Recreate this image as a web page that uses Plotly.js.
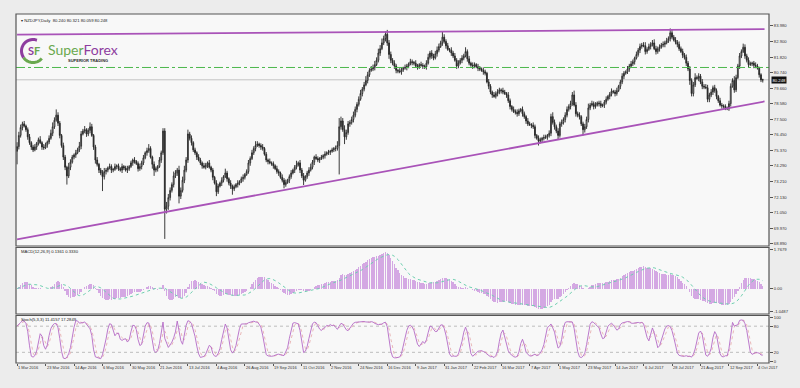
<!DOCTYPE html>
<html><head><meta charset="utf-8">
<script src="https://cdn.plot.ly/plotly-3.0.1.min.js"></script>
<style>html,body{margin:0;padding:0;background:#ffffff}#c{width:800px;height:388px}</style>
</head><body><div id="c"></div><script>
// ---------- DATA (NZDJPY Daily, 1 Mar 2016 - 9 Oct 2017) ----------
const closes = [
75.63,76.40,76.95,77.20,77.05,76.80,76.30,75.90,75.60,75.40,
75.60,75.85,76.10,75.90,75.60,75.55,75.75,75.95,76.20,76.55,
77.00,77.45,77.80,77.25,76.40,75.70,74.90,74.20,73.60,74.20,
74.55,74.90,75.05,75.20,75.40,75.65,76.50,76.70,76.80,76.50,
76.75,77.00,76.40,75.60,74.70,74.40,74.00,73.80,73.55,73.90,
74.00,74.15,74.25,74.00,74.05,74.25,74.30,74.10,74.00,74.25,
74.15,74.00,74.10,74.25,74.50,74.70,74.60,74.45,74.10,74.25,
74.50,74.85,75.20,75.35,75.50,74.90,74.40,74.00,74.10,74.25,
74.70,75.20,76.70,71.30,71.50,72.10,72.60,73.00,73.60,73.80,
74.00,72.20,72.60,73.30,74.00,74.70,76.50,76.20,75.90,75.40,
75.20,74.90,74.70,74.50,74.30,74.20,74.35,74.50,74.20,74.00,
73.50,73.10,72.50,72.90,73.10,73.30,73.55,73.80,73.40,73.10,
72.90,72.70,72.85,73.00,73.10,73.20,73.40,73.50,73.70,73.90,
74.50,74.80,75.20,75.50,75.70,75.80,75.70,75.60,75.50,75.10,
74.70,74.60,74.50,74.45,74.30,74.10,73.90,73.80,73.50,73.30,
73.00,73.15,73.30,73.55,73.80,74.00,74.20,74.35,74.50,74.00,
73.60,73.30,73.55,73.80,74.00,74.20,74.55,74.90,74.80,74.70,
74.80,74.90,75.00,75.10,75.20,75.25,75.30,75.40,75.50,75.50,
75.70,77.00,77.40,76.80,76.30,76.60,77.20,77.30,77.50,77.80,
78.20,78.55,78.90,79.30,79.60,79.90,80.20,80.60,80.90,81.00,
81.10,81.30,81.60,82.10,82.40,82.80,83.10,83.40,82.80,82.00,
81.60,81.40,81.20,80.90,80.85,80.80,80.95,81.05,81.10,81.20,
81.35,81.50,81.45,81.40,81.20,81.15,81.30,81.25,81.20,81.15,
81.40,81.80,82.10,81.90,81.75,82.05,82.30,82.55,82.80,83.20,
82.90,82.60,82.35,82.30,82.10,81.90,81.60,81.20,81.40,81.60,
81.75,81.90,82.20,81.70,81.40,81.25,81.20,81.30,81.15,81.05,
81.00,80.90,80.80,80.70,80.10,79.80,79.40,79.20,79.10,79.30,
79.40,79.55,79.50,79.40,79.30,79.20,78.80,78.40,78.20,78.05,
78.00,77.90,78.10,78.20,77.90,77.70,77.40,77.20,77.15,77.10,
77.00,76.40,76.20,76.00,76.10,76.20,76.25,76.30,76.40,76.55,
77.70,77.30,77.00,76.70,76.40,77.20,77.30,77.50,77.80,78.20,
78.40,78.60,79.20,78.50,77.90,77.80,77.70,77.20,76.80,77.00,
77.50,78.30,78.50,78.60,78.40,78.50,78.65,78.60,78.45,78.50,
78.70,78.90,79.10,79.25,79.45,79.40,79.30,79.50,79.80,80.10,
80.50,80.70,80.80,81.00,81.20,81.35,81.50,81.75,82.00,82.30,
82.55,82.65,82.60,82.20,82.35,82.55,82.70,82.80,82.40,82.20,
82.40,82.50,82.65,82.70,82.80,82.95,83.10,83.50,83.20,83.00,
82.85,82.70,82.40,82.20,81.95,81.80,81.40,81.00,80.20,79.30,
79.90,80.40,80.35,80.50,80.10,79.80,79.75,79.70,78.90,79.20,
79.40,79.70,79.50,79.10,78.80,78.50,78.45,78.40,78.30,78.25,
78.60,79.80,80.20,79.55,80.40,81.20,81.90,82.20,82.50,81.90,
81.60,81.30,81.35,81.40,81.25,81.20,81.05,80.60,80.24,80.248];
const firstOpen = 75.30;
// upper / lower shadow length beyond the body (price units)
const hiExt = [
.3,.25,.2,.15,.2,.1,.15,.2,.1,.15, .2,.1,.15,.25,.1,.2,.15,.1,.2,.25,
.3,.2,.4,.2,.15,.1,.2,.15,.1,.3, .2,.15,.1,.2,.15,.3,.2,.15,.25,.1,
.15,.3,.2,.1,.15,.2,.1,.15,.2,.25, .15,.1,.2,.15,.1,.2,.1,.15,.1,.2,
.1,.15,.2,.1,.15,.1,.2,.1,.15,.2, .15,.2,.1,.2,.3,.15,.1,.2,.15,.1,
.2,.15,.2,.2,.3,.25,.2,.15,.3,.2, .15,.3,.2,.25,.3,.2,.3,.15,.2,.1,
.15,.1,.2,.15,.1,.2,.15,.1,.2,.1, .15,.1,.2,.15,.1,.2,.1,.3,.15,.1,
.2,.1,.15,.1,.2,.1,.15,.2,.1,.15, .2,.15,.2,.15,.3,.2,.1,.15,.2,.1,
.15,.1,.2,.1,.15,.1,.2,.15,.1,.2, .15,.2,.1,.15,.2,.1,.15,.3,.1,.2,
.15,.2,.1,.15,.2,.25,.15,.1,.2,.15, .1,.15,.1,.2,.1,.15,.1,.15,.1,.2,
.3,.6,.3,.2,.3,.2,.2,.15,.2,.25, .2,.15,.2,.25,.15,.2,.3,.2,.15,.2,
.2,.25,.2,.3,.25,.3,.2,.2,.3,.2, .2,.15,.2,.15,.1,.2,.15,.1,.2,.15,
.1,.2,.15,.1,.2,.15,.1,.2,.15,.1, .2,.25,.15,.2,.15,.2,.25,.2,.15,.4,
.2,.15,.2,.1,.2,.15,.2,.15,.2,.15, .2,.15,.3,.15,.2,.1,.2,.15,.1,.2,
.15,.1,.2,.15,.1,.2,.15,.1,.2,.15, .2,.15,.1,.2,.15,.1,.2,.15,.1,.2,
.15,.2,.15,.1,.2,.15,.1,.2,.15,.1, .2,.15,.1,.2,.15,.1,.2,.15,.1,.2,
.2,.3,.2,.15,.2,.15,.2,.15,.2,.2, .15,.2,.2,.3,.2,.15,.2,.1,.15,.2,
.2,.3,.15,.2,.15,.2,.1,.15,.2,.1, .15,.2,.1,.15,.2,.1,.15,.2,.1,.15,
.2,.15,.1,.2,.15,.2,.15,.1,.2,.15, .2,.15,.2,.25,.15,.2,.15,.2,.25,.2,
.15,.2,.15,.2,.15,.2,.15,.3,.2,.15, .2,.15,.2,.15,.2,.15,.2,.15,.2,.15,
.2,.3,.15,.2,.15,.2,.15,.2,.2,.15, .2,.15,.2,.15,.1,.2,.15,.1,.15,.1,
.2,.2,.15,.3,.2,.15,.2,.15,.25,.2, .15,.2,.15,.1,.15,.2,.15,.1,.1,.073];
const loExt = [
.9,.2,.15,.2,.1,.15,.2,.15,.2,.15, .1,.2,.15,.1,.2,.15,.1,.2,.15,.1,
.2,.15,.1,.2,.2,.15,.2,.2,.6,.15, .2,.1,.15,.2,.1,.15,.2,.1,.15,.2,
.15,.2,.1,.2,.25,.15,.2,.15,1.0,.2, .2,.15,.1,.2,.15,.1,.2,.15,.1,.2,
.15,.1,.2,.15,.1,.2,.15,.1,.2,.15, .2,.15,.1,.2,.15,.1,.3,.4,.15,.2,
.1,.2,.15,2.06,.3,.25,.2,.15,.2,.15, .2,.5,.2,.15,.2,.15,.2,.15,.2,.15,
.15,.2,.1,.15,.2,.1,.15,.2,.1,.15, .2,.1,.3,.15,.1,.2,.15,.1,.2,.15,
.2,.4,.15,.1,.2,.15,.1,.2,.15,.1, .15,.2,.1,.15,.2,.1,.15,.2,.15,.1,
.15,.2,.1,.15,.2,.1,.15,.2,.1,.15, .26,.15,.1,.2,.15,.1,.2,.15,.1,.2,
.15,.33,.1,.15,.2,.1,.15,.2,.1,.15, .2,.1,.15,.2,.1,.15,.2,.1,.15,.2,
.15,2.0,.2,.15,.5,.2,.15,.2,.15,.2, .15,.2,.15,.1,.2,.15,.1,.2,.15,.1,
.15,.2,.1,.15,.2,.1,.15,.2,.2,.3, .2,.15,.2,.2,.15,.1,.2,.15,.1,.2,
.15,.1,.2,.15,.1,.2,.15,.1,.2,.15, .2,.1,.15,.2,.15,.1,.2,.15,.1,.2,
.15,.2,.1,.15,.2,.15,.1,.2,.15,.1, .2,.15,.1,.2,.15,.1,.2,.15,.1,.2,
.15,.1,.2,.15,.1,.2,.15,.2,.1,.15, .2,.15,.2,.15,.1,.2,.15,.2,.15,.1,
.15,.2,.15,.1,.2,.15,.2,.15,.1,.2, .15,.2,.1,.3,.15,.2,.15,.1,.2,.15,
.2,.15,.2,.15,.3,.15,.2,.15,.2,.15, .15,.2,.15,.1,.2,.15,.2,.15,.4,.2,
.15,.2,.15,.1,.2,.15,.1,.2,.15,.1, .2,.15,.1,.2,.15,.1,.2,.15,.1,.2,
.15,.2,.1,.15,.2,.1,.15,.2,.1,.15, .2,.15,.1,.2,.15,.1,.2,.15,.1,.2,
.15,.2,.1,.15,.2,.1,.15,.2,.15,.1, .15,.2,.15,.1,.2,.15,.2,.15,.3,.2,
.2,.15,.1,.2,.15,.2,.15,.1,.2,.2, .15,.2,.15,.2,.15,.1,.2,.15,.15,.1,
.15,.2,.1,.2,.15,.1,.2,.15,.1,.2, .15,.2,.1,.15,.2,.15,.1,.2,.15,.181];
const dateLabels = ['1 Mar 2016','23 Mar 2016','14 Apr 2016','6 May 2016','30 May 2016','21 Jun 2016','13 Jul 2016','4 Aug 2016','26 Aug 2016','19 Sep 2016','11 Oct 2016','2 Nov 2016','24 Nov 2016','16 Dec 2016','9 Jan 2017','31 Jan 2017','22 Feb 2017','16 Mar 2017','7 Apr 2017','1 May 2017','23 May 2017','14 Jun 2017','6 Jul 2017','28 Jul 2017','21 Aug 2017','12 Sep 2017','4 Oct 2017'];
const dateBars = [0,16,32,48,64,80,96,112,128,144,160,176,192,208,224,240,256,272,288,304,320,336,352,368,384,400,416];
const priceTicks = [83.98,82.90,81.82,80.74,79.66,78.58,77.50,76.45,75.37,74.29,73.21,72.13,71.05,69.97,68.89];
const priceTickText = ['83.980','82.900','81.820','80.740','79.660','78.580','77.500','76.450','75.370','74.290','73.210','72.130','71.050','69.970','68.890'];
const macdTicks = [1.7679,0,-1.0487];
const macdTickText = ['1.7679','0.00','-1.0487'];
const stochTicks = [100,80,20,0];
const trendX = [0,420];
const resistanceY = [83.37,83.75];
const supportY = [69.21,78.75];
const levelGreen = 81.10;
const headerText = 'NZDJPY,Daily  80.240 80.321 80.059 80.248';
const macdText = 'MACD(12,26,9) 0.1361 0.3330';
const stochText = 'Stoch(5,3,3) 11.4157 17.2849';

// ---------- derived series ----------
const N = closes.length;
const idx = closes.map((_, i) => i);
const opens = closes.map((c, i) => i === 0 ? firstOpen : closes[i - 1]);
opens[N - 1] = 80.24;
const highs = closes.map((c, i) => Math.max(opens[i], c) + hiExt[i]);
const lows = closes.map((c, i) => Math.min(opens[i], c) - loExt[i]);

function ema(arr, p) { const k = 2 / (p + 1); const o = [arr[0]]; for (let i = 1; i < arr.length; i++) o.push(o[i - 1] + k * (arr[i] - o[i - 1])); return o; }
function sma(arr, p) { return arr.map((_, i) => { const s = arr.slice(Math.max(0, i - p + 1), i + 1); return s.reduce((a, b) => a + b, 0) / s.length; }); }
const e12 = ema(closes, 12), e26 = ema(closes, 26);
const macd = closes.map((_, i) => e12[i] - e26[i]);
const macdSig = sma(macd, 9);
const num = [], den = [];
for (let i = 0; i < N; i++) {
  const a = Math.max(0, i - 4);
  const ll = Math.min(...lows.slice(a, i + 1)), hh = Math.max(...highs.slice(a, i + 1));
  num.push(closes[i] - ll); den.push(hh - ll);
}
const stochK = [];
for (let i = 0; i < N; i++) {
  const a = Math.max(0, i - 2);
  let sn = 0, sd = 0; for (let j = a; j <= i; j++) { sn += num[j]; sd += den[j]; }
  stochK.push(sd > 0 ? 100 * sn / sd : 50);
}
const stochD = sma(stochK, 3);

// ---------- layout helpers (pixel -> paper) ----------
const W = 800, H = 388;
const px = x => x / W, py = y => 1 - y / H;
const FONT = 'Liberation Sans';
const PURPLE = '#a953b8';

function arcPath(cx, cy, r, a0, a1) {
  let s = '';
  for (let k = 0; k <= 24; k++) {
    const a = (a0 + (a1 - a0) * k / 24) * Math.PI / 180;
    const x = px(cx + r * Math.cos(a)), y = py(cy - r * Math.sin(a));
    s += (k === 0 ? 'M' : 'L') + x.toFixed(5) + ',' + y.toFixed(5);
  }
  return s;
}

const traces = [
  { type: 'candlestick', x: idx, open: opens, high: highs, low: lows, close: closes,
    xaxis: 'x', yaxis: 'y', whiskerwidth: 0, hoverinfo: 'skip', showlegend: false,
    increasing: { line: { color: '#262626', width: 0.9 }, fillcolor: '#ffffff' },
    decreasing: { line: { color: '#262626', width: 0.9 }, fillcolor: '#262626' } },
  { type: 'scatter', mode: 'lines', x: trendX, y: resistanceY, xaxis: 'x', yaxis: 'y',
    line: { color: PURPLE, width: 1.8 }, hoverinfo: 'skip', showlegend: false },
  { type: 'scatter', mode: 'lines', x: trendX, y: supportY, xaxis: 'x', yaxis: 'y',
    line: { color: PURPLE, width: 1.8 }, hoverinfo: 'skip', showlegend: false },
  { type: 'bar', x: idx, y: macd, xaxis: 'x', yaxis: 'y2', width: 0.75,
    marker: { color: '#d4a8e3', line: { width: 0 } }, hoverinfo: 'skip', showlegend: false },
  { type: 'scatter', mode: 'lines', x: idx, y: macdSig, xaxis: 'x', yaxis: 'y2',
    line: { color: '#6fcfb0', width: 1, dash: 'dot' }, hoverinfo: 'skip', showlegend: false },
  { type: 'scatter', mode: 'lines', x: idx, y: stochD, xaxis: 'x', yaxis: 'y3',
    line: { color: '#e9b8b8', width: 1, dash: 'dot' }, hoverinfo: 'skip', showlegend: false },
  { type: 'scatter', mode: 'lines', x: idx, y: stochK, xaxis: 'x', yaxis: 'y3',
    line: { color: '#b46ac6', width: 0.9 }, hoverinfo: 'skip', showlegend: false }
];

const axFont = { family: FONT, size: 4.2, color: '#333' };
const yCommon = { side: 'right', anchor: 'x', showgrid: false, zeroline: false, ticks: 'outside',
  ticklen: 3, tickcolor: '#555', tickfont: axFont, showline: false, fixedrange: true };

const shapes = [
  { type: 'line', xref: 'paper', x0: px(16), x1: px(769), yref: 'y', y0: closes[N - 1], y1: closes[N - 1], line: { color: '#c4c4c4', width: 1 }, layer: 'below' },
  { type: 'line', xref: 'paper', x0: px(16), x1: px(769), yref: 'y', y0: levelGreen, y1: levelGreen, line: { color: '#4cb84c', width: 1, dash: 'dashdot' } },
  { type: 'line', xref: 'paper', x0: px(16), x1: px(769), yref: 'y3', y0: 80, y1: 80, line: { color: '#bdbdbd', width: 1, dash: 'dot' }, layer: 'below' },
  { type: 'line', xref: 'paper', x0: px(16), x1: px(769), yref: 'y3', y0: 20, y1: 20, line: { color: '#bdbdbd', width: 1, dash: 'dot' }, layer: 'below' },
  { type: 'rect', xref: 'paper', yref: 'paper', x0: px(16), x1: px(769), y0: py(246), y1: py(14), line: { color: '#555', width: 1.2 } },
  { type: 'rect', xref: 'paper', yref: 'paper', x0: px(16), x1: px(769), y0: py(314), y1: py(247.5), line: { color: '#555', width: 1.2 } },
  { type: 'rect', xref: 'paper', yref: 'paper', x0: px(16), x1: px(769), y0: py(363), y1: py(315.5), line: { color: '#555', width: 1.2 } },
  // SuperForex logo ring
  { type: 'path', xref: 'paper', yref: 'paper', path: arcPath(33, 51, 11.5, 70, 215), line: { color: '#8e3d9f', width: 3 } },
  { type: 'path', xref: 'paper', yref: 'paper', path: arcPath(33, 51, 11.5, 215, 320), line: { color: '#6aa84f', width: 3 } }
];

const annotations = [
  { xref: 'paper', yref: 'paper', x: px(19), y: py(20), xanchor: 'left', yanchor: 'middle', showarrow: false,
    text: '\u25BE ' + headerText, font: { family: FONT, size: 4.2, color: '#222' } },
  { xref: 'paper', yref: 'paper', x: px(19), y: py(251.5), xanchor: 'left', yanchor: 'middle', showarrow: false,
    text: macdText, font: { family: FONT, size: 4.2, color: '#222' } },
  { xref: 'paper', yref: 'paper', x: px(19), y: py(319), xanchor: 'left', yanchor: 'middle', showarrow: false,
    text: stochText, font: { family: FONT, size: 4.2, color: '#222' } },
  { xref: 'paper', yref: 'paper', x: px(26), y: py(51), xanchor: 'left', yanchor: 'middle', showarrow: false,
    text: '<b><span style="color:#8e3d9f">S</span><span style="color:#6aa84f">F</span></b>', font: { family: 'Lato', size: 11 } },
  { xref: 'paper', yref: 'paper', x: px(46), y: py(49), xanchor: 'left', yanchor: 'middle', showarrow: false,
    text: '<span style="color:#6aa84f">Super</span><span style="color:#8e3d9f">Forex</span>', font: { family: 'Lato', size: 14 } },
  { xref: 'paper', yref: 'paper', x: px(110), y: py(60.5), xanchor: 'right', yanchor: 'middle', showarrow: false,
    text: '<b>SUPERIOR TRADING</b>', font: { family: FONT, size: 4.0, color: '#2b2b2b' } },
  { xref: 'paper', yref: 'y', x: px(770.5), y: closes[N - 1], xanchor: 'left', yanchor: 'middle', showarrow: false,
    text: '80.248', bgcolor: '#111', borderpad: 0.5, font: { family: FONT, size: 4.2, color: '#fff' } }
];
dateBars.forEach((b, k) => annotations.push({ xref: 'x', yref: 'paper', x: b, y: py(367.5), xanchor: 'left', yanchor: 'middle',
  xshift: -1, showarrow: false, text: dateLabels[k], font: { family: FONT, size: 4.0, color: '#333' } }));

const layout = {
  width: W, height: H, margin: { l: 0, r: 0, t: 0, b: 0 },
  paper_bgcolor: '#ececec', plot_bgcolor: '#f8f8f8', showlegend: false, bargap: 0,
  xaxis: { domain: [px(16), px(769)], range: [-0.6, 422.5], anchor: 'y3', showgrid: false, zeroline: false,
    tickvals: dateBars, showticklabels: false, ticks: 'outside', ticklen: 2, tickcolor: '#555',
    rangeslider: { visible: false }, fixedrange: true, showline: false },
  yaxis: Object.assign({}, yCommon, { domain: [py(246), py(14)], range: [68.75, 84.80], tickvals: priceTicks, ticktext: priceTickText }),
  yaxis2: Object.assign({}, yCommon, { domain: [py(314), py(247.5)], range: [-1.1623, 1.8815], tickvals: macdTicks, ticktext: macdTickText }),
  yaxis3: Object.assign({}, yCommon, { domain: [py(363), py(315.5)], range: [-4.5, 104.5], tickvals: stochTicks, ticktext: ['100', '80', '20', '0'] }),
  shapes: shapes, annotations: annotations
};
Plotly.newPlot('c', traces, layout, { staticPlot: true, displayModeBar: false });
</script></body></html>
